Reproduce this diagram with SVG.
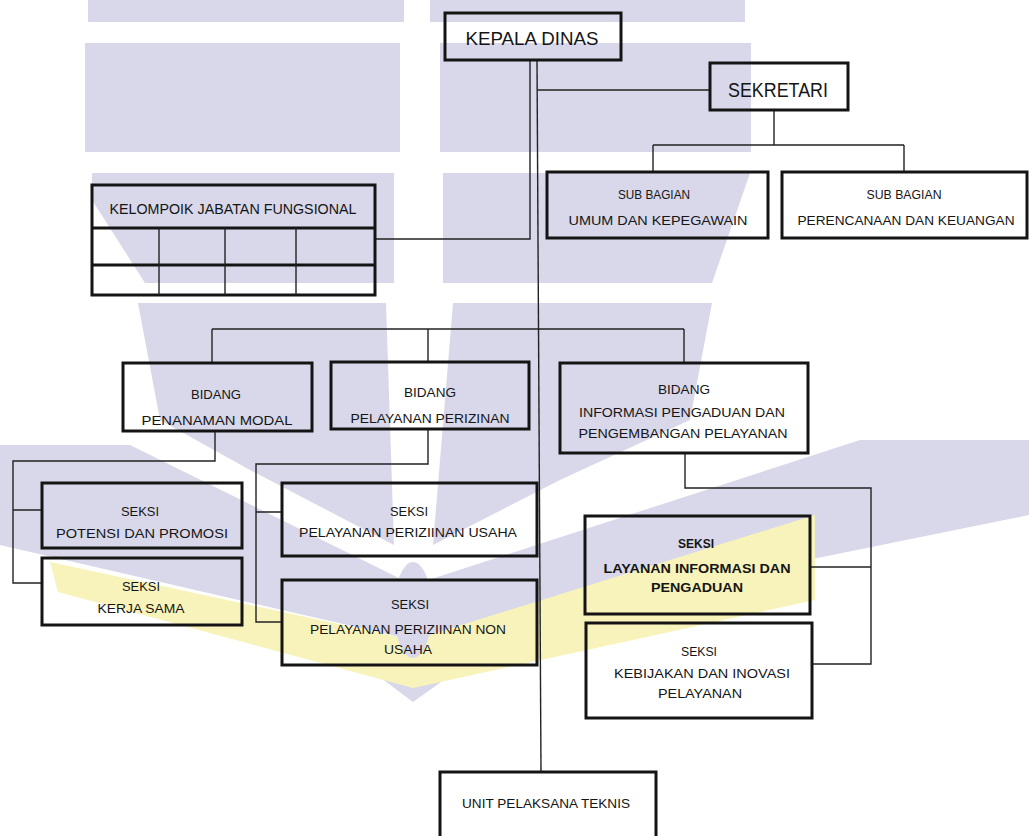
<svg xmlns="http://www.w3.org/2000/svg" width="1029" height="836" viewBox="0 0 1029 836">
<style>
.wm{fill:#d8d8ea}
.wy{fill:#f8f3ba}
.box{fill:none;stroke:#141414;stroke-width:3}
.ln{fill:none;stroke:#222;stroke-width:1.4}
.t{font-family:"Liberation Sans",Arial,sans-serif;font-size:13px;fill:#151515;text-anchor:middle}
.b{font-weight:bold}
</style>
<rect width="1029" height="836" fill="#ffffff"/>
<g id="watermark">
<rect class="wm" x="88" y="0" width="316" height="22"/>
<rect class="wm" x="430" y="0" width="315" height="22"/>
<rect class="wm" x="85" y="43" width="315" height="109"/>
<rect class="wm" x="440" y="43" width="311" height="109"/>
<polygon class="wm" points="92,173 394,173 394,283 145,283 92,200"/>
<polygon class="wm" points="443,173 750,173 712,283 443,283"/>
<polygon class="wm" points="138,303 386,303 394,545 250,470 160,420"/>
<polygon class="wm" points="453,303 712,303 690,420 560,480 433,545"/>
<polygon class="wm" points="0,445 130,445 413,585 413,640 0,545"/>
<polygon class="wm" points="1029,440 1029,515 413,640 413,585 860,440"/>
<polygon class="wm" points="330,640 500,640 413,702"/>
<polygon class="wy" points="50,562 413,640 413,688 58,592"/>
<polygon class="wy" points="413,640 815,515 815,600 413,688"/>
<ellipse class="wm" cx="413" cy="610" rx="19" ry="48"/>
</g>
<g id="connectors">
<path class="ln" d="M530,60 V239 H375"/>
<path class="ln" d="M537,60 L541,772"/>
<path class="ln" d="M538,90 H710"/>
<path class="ln" d="M774,110 V145 M653,145 H904 M653,145 V172 M904,145 V172"/>
<path class="ln" d="M212,329 H684 M212,329 V363 M428,329 V362 M684,329 V363"/>
<path class="ln" d="M215,431 V461 H13 V583 H42 M13,510 H42"/>
<path class="ln" d="M428,429 V464 H256 V622 H282 M256,512 H282"/>
<path class="ln" d="M685,453 V488 H871 V664 H812 M871,567 H810"/>
</g>
<g id="kepala-dinas">
<rect class="box" x="445" y="13" width="176" height="47"/>
<text class="t" x="532" y="45" style="font-size:18px" textLength="133" lengthAdjust="spacingAndGlyphs">KEPALA DINAS</text>
</g>
<g id="sekretari">
<rect class="box" x="710" y="63" width="138" height="47"/>
<text class="t" x="778" y="97" style="font-size:20px" textLength="100" lengthAdjust="spacingAndGlyphs">SEKRETARI</text>
</g>
<g id="kelompok-jabatan-fungsional">
<rect class="box" x="92" y="185" width="283" height="110"/>
<path class="box" d="M92,228 H375 M92,265 H375"/>
<path class="ln" d="M159,228 V295 M225,228 V295 M296,228 V295"/>
<text class="t" x="233" y="214" style="font-size:14.5px" textLength="247" lengthAdjust="spacingAndGlyphs">KELOMPOIK JABATAN FUNGSIONAL</text>
</g>
<g id="sub-bagian-umum">
<rect class="box" x="547" y="172" width="221" height="66"/>
<text class="t" x="654" y="199" textLength="72" lengthAdjust="spacingAndGlyphs">SUB BAGIAN</text>
<text class="t" x="658" y="225" textLength="179" lengthAdjust="spacingAndGlyphs">UMUM DAN KEPEGAWAIN</text>
</g>
<g id="sub-bagian-perencanaan">
<rect class="box" x="782" y="172" width="245" height="66"/>
<text class="t" x="904" y="199" textLength="75" lengthAdjust="spacingAndGlyphs">SUB BAGIAN</text>
<text class="t" x="906" y="225" textLength="217" lengthAdjust="spacingAndGlyphs">PERENCANAAN DAN KEUANGAN</text>
</g>
<g id="bidang-penanaman-modal">
<rect class="box" x="123" y="363" width="189" height="68"/>
<text class="t" x="216" y="399" textLength="50" lengthAdjust="spacingAndGlyphs">BIDANG</text>
<text class="t" x="217" y="425" textLength="151" lengthAdjust="spacingAndGlyphs">PENANAMAN MODAL</text>
</g>
<g id="bidang-pelayanan-perizinan">
<rect class="box" x="331" y="362" width="198" height="67"/>
<text class="t" x="430" y="397" textLength="52" lengthAdjust="spacingAndGlyphs">BIDANG</text>
<text class="t" x="430" y="423" textLength="159" lengthAdjust="spacingAndGlyphs">PELAYANAN PERIZINAN</text>
</g>
<g id="bidang-informasi">
<rect class="box" x="560" y="363" width="248" height="90"/>
<text class="t" x="684" y="394" textLength="52" lengthAdjust="spacingAndGlyphs">BIDANG</text>
<text class="t" x="682" y="417" textLength="206" lengthAdjust="spacingAndGlyphs">INFORMASI PENGADUAN DAN</text>
<text class="t" x="683" y="438" textLength="209" lengthAdjust="spacingAndGlyphs">PENGEMBANGAN PELAYANAN</text>
</g>
<g id="seksi-potensi">
<rect class="box" x="42" y="483" width="200" height="65"/>
<text class="t" x="140" y="516" textLength="38" lengthAdjust="spacingAndGlyphs">SEKSI</text>
<text class="t" x="142" y="538" textLength="172" lengthAdjust="spacingAndGlyphs">POTENSI DAN PROMOSI</text>
</g>
<g id="seksi-kerja-sama">
<rect class="box" x="42" y="558" width="200" height="67"/>
<text class="t" x="141" y="591" textLength="38" lengthAdjust="spacingAndGlyphs">SEKSI</text>
<text class="t" x="141" y="613" textLength="87" lengthAdjust="spacingAndGlyphs">KERJA SAMA</text>
</g>
<g id="seksi-perizinan-usaha">
<rect class="box" x="282" y="483" width="255" height="73"/>
<text class="t" x="409" y="516" textLength="38" lengthAdjust="spacingAndGlyphs">SEKSI</text>
<text class="t" x="408" y="537" textLength="218" lengthAdjust="spacingAndGlyphs">PELAYANAN PERIZIINAN USAHA</text>
</g>
<g id="seksi-perizinan-non-usaha">
<rect class="box" x="282" y="580" width="255" height="85"/>
<text class="t" x="410" y="609" textLength="38" lengthAdjust="spacingAndGlyphs">SEKSI</text>
<text class="t" x="408" y="634" textLength="196" lengthAdjust="spacingAndGlyphs">PELAYANAN PERIZIINAN NON</text>
<text class="t" x="408" y="654" textLength="48" lengthAdjust="spacingAndGlyphs">USAHA</text>
</g>
<g id="seksi-layanan-informasi">
<rect class="box" x="585" y="516" width="225" height="98"/>
<text class="t b" x="696" y="548" textLength="36" lengthAdjust="spacingAndGlyphs">SEKSI</text>
<text class="t b" x="697" y="573" textLength="187" lengthAdjust="spacingAndGlyphs">LAYANAN INFORMASI DAN</text>
<text class="t b" x="697" y="592" textLength="92" lengthAdjust="spacingAndGlyphs">PENGADUAN</text>
</g>
<g id="seksi-kebijakan">
<rect class="box" x="586" y="623" width="226" height="95"/>
<text class="t" x="699" y="656" textLength="36" lengthAdjust="spacingAndGlyphs">SEKSI</text>
<text class="t" x="702" y="678" textLength="176" lengthAdjust="spacingAndGlyphs">KEBIJAKAN DAN INOVASI</text>
<text class="t" x="700" y="698" textLength="84" lengthAdjust="spacingAndGlyphs">PELAYANAN</text>
</g>
<g id="unit-pelaksana-teknis">
<rect class="box" x="440" y="772" width="216" height="80"/>
<text class="t" x="546" y="808" textLength="168" lengthAdjust="spacingAndGlyphs">UNIT PELAKSANA TEKNIS</text>
</g>
</svg>
